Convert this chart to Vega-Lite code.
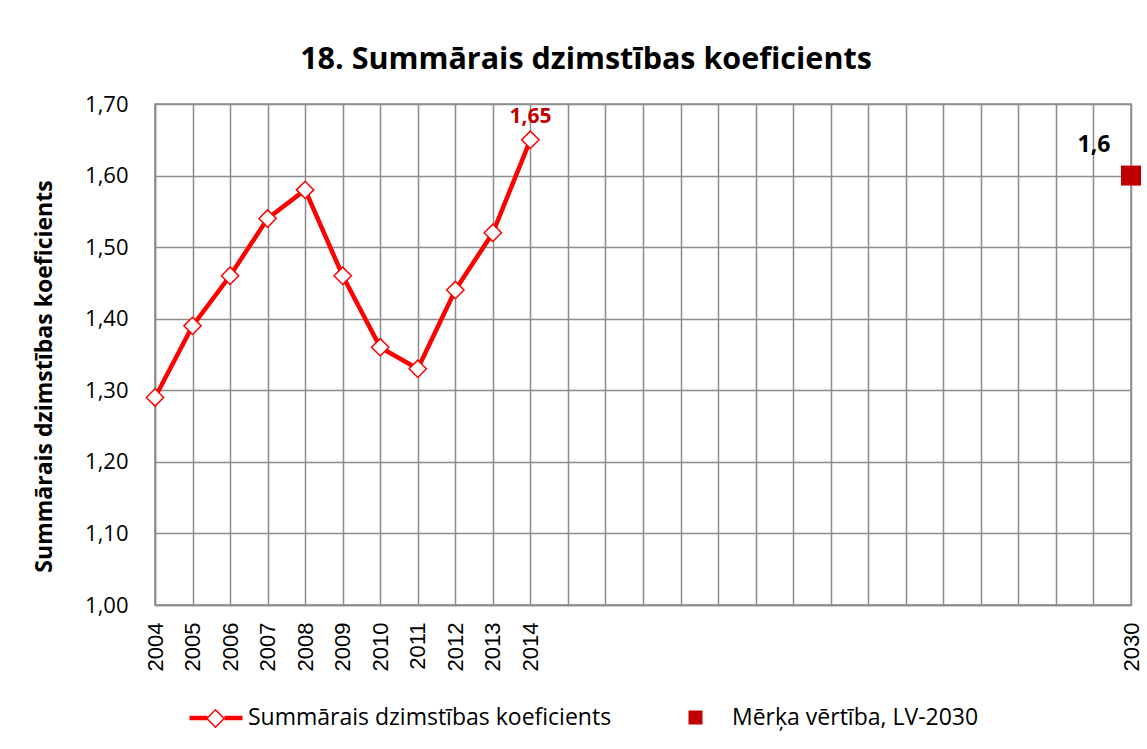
{
  "$schema": "https://vega.github.io/schema/vega-lite/v6.json",
  "width": 976,
  "height": 501,
  "autosize": "none",
  "padding": {"left": 155, "top": 104, "right": 16, "bottom": 144},
  "background": "white",
  "title": {
    "text": "18. Summārais dzimstības koeficients",
    "font": "Open Sans",
    "fontSize": 30.5,
    "fontWeight": "bold",
    "color": "black",
    "anchor": "middle",
    "frame": "group",
    "dx": -57,
    "offset": -6,
    "baseline": "alphabetic"
  },
  "data": {
    "values": [
      {"series": "main", "year": 2004, "value": 1.29},
      {"series": "main", "year": 2005, "value": 1.39},
      {"series": "main", "year": 2006, "value": 1.46},
      {"series": "main", "year": 2007, "value": 1.54},
      {"series": "main", "year": 2008, "value": 1.58},
      {"series": "main", "year": 2009, "value": 1.46},
      {"series": "main", "year": 2010, "value": 1.36},
      {"series": "main", "year": 2011, "value": 1.33},
      {"series": "main", "year": 2012, "value": 1.44},
      {"series": "main", "year": 2013, "value": 1.52},
      {"series": "main", "year": 2014, "value": 1.65},
      {"series": "target", "year": 2030, "value": 1.6}
    ]
  },
  "encoding": {
    "x": {
      "field": "year",
      "type": "quantitative",
      "scale": {"domain": [2004, 2030], "nice": false, "zero": false},
      "axis": {
        "values": [2004, 2005, 2006, 2007, 2008, 2009, 2010, 2011, 2012, 2013, 2014, 2015, 2016, 2017, 2018, 2019, 2020, 2021, 2022, 2023, 2024, 2025, 2026, 2027, 2028, 2029, 2030],
        "format": "d",
        "labelExpr": "datum.value <= 2014 || datum.value == 2030 ? datum.label : ''",
        "labelAngle": 270,
        "labelAlign": "right",
        "labelBaseline": "middle",
        "labelPadding": 17,
        "labelOverlap": false,
        "labelFont": "Liberation Sans",
        "labelFontSize": 22,
        "labelColor": "black",
        "ticks": false,
        "title": null,
        "grid": true,
        "gridColor": "#8c8c8c",
        "gridWidth": 1.5,
        "domainColor": "#8c8c8c",
        "domainWidth": 1.5
      }
    },
    "y": {
      "field": "value",
      "type": "quantitative",
      "scale": {"domain": [1, 1.7], "nice": false, "zero": false},
      "axis": {
        "values": [1, 1.1, 1.2, 1.3, 1.4, 1.5, 1.6, 1.7],
        "format": ".2f",
        "ticks": false,
        "labelPadding": 27,
        "labelFont": "Open Sans",
        "labelFontSize": 22,
        "labelColor": "black",
        "title": "Summārais dzimstības koeficients",
        "titleFont": "Open Sans",
        "titleFontSize": 23,
        "titleFontWeight": "bold",
        "titleColor": "black",
        "titleX": -111,
        "titleY": 272,
        "titleAngle": 270,
        "titleAlign": "center",
        "titleBaseline": "middle",
        "grid": true,
        "gridColor": "#8c8c8c",
        "gridWidth": 1.5,
        "domainColor": "#8c8c8c",
        "domainWidth": 1.5
      }
    }
  },
  "layer": [
    {
      "transform": [{"filter": "datum.series == 'main'"}],
      "mark": {"type": "line", "strokeWidth": 4.5},
      "encoding": {
        "stroke": {
          "datum": "Summārais dzimstības koeficients",
          "scale": {"range": ["#FF0000"]},
          "legend": {
            "orient": "none",
            "legendX": 32,
            "legendY": 585,
            "title": null,
            "padding": 0,
            "symbolType": "M-1,0H-0.32M0.32,0H1",
            "symbolSize": 2809,
            "symbolStrokeWidth": 4.5,
            "symbolStrokeColor": "#FF0000",
            "labelOffset": 3,
            "labelLimit": 0
          }
        }
      }
    },
    {
      "transform": [{"filter": "datum.series == 'main'"}],
      "mark": {"type": "point", "shape": "diamond", "size": 300, "filled": false, "fill": "white", "strokeWidth": 1.5, "opacity": 1},
      "encoding": {
        "color": {
          "datum": "marker",
          "scale": {"range": ["#FF0000"]},
          "legend": {
            "orient": "none",
            "legendX": 49,
            "legendY": 603,
            "title": null,
            "padding": 0,
            "symbolType": "diamond",
            "symbolSize": 300,
            "symbolStrokeWidth": 1.5,
            "symbolOpacity": 1,
            "labelExpr": "''",
            "labelLimit": 0
          }
        }
      }
    },
    {
      "transform": [{"filter": "datum.series == 'target'"}],
      "mark": {"type": "square", "size": 400, "opacity": 1},
      "encoding": {
        "fill": {
          "datum": "Mērķa vērtība, LV-2030",
          "scale": {"range": ["#C00000"]},
          "legend": {
            "orient": "none",
            "legendX": 529,
            "legendY": 602,
            "title": null,
            "padding": 0,
            "symbolType": "square",
            "symbolSize": 196,
            "labelOffset": 25,
            "labelLimit": 0
          }
        }
      }
    },
    {
      "transform": [{"filter": "datum.series == 'main' && datum.year == 2014"}],
      "mark": {"type": "text", "font": "Open Sans", "fontSize": 21, "fontWeight": "bold", "color": "#C00000", "baseline": "alphabetic", "align": "center", "dy": -17},
      "encoding": {"text": {"field": "value", "type": "quantitative", "format": ".2f"}}
    },
    {
      "transform": [{"filter": "datum.series == 'target'"}],
      "mark": {"type": "text", "font": "Open Sans", "fontSize": 23, "fontWeight": "bold", "color": "black", "baseline": "alphabetic", "align": "center", "dx": -37, "dy": -24},
      "encoding": {"text": {"field": "value", "type": "quantitative", "format": ".1f"}}
    }
  ],
  "config": {
    "locale": {"number": {"decimal": ",", "thousands": ".", "grouping": [3], "currency": ["", " €"]}},
    "view": {"stroke": "#8c8c8c", "strokeWidth": 1.5},
    "legend": {"labelFont": "Open Sans", "labelFontSize": 23, "labelColor": "black", "labelLimit": 0}
  }
}
